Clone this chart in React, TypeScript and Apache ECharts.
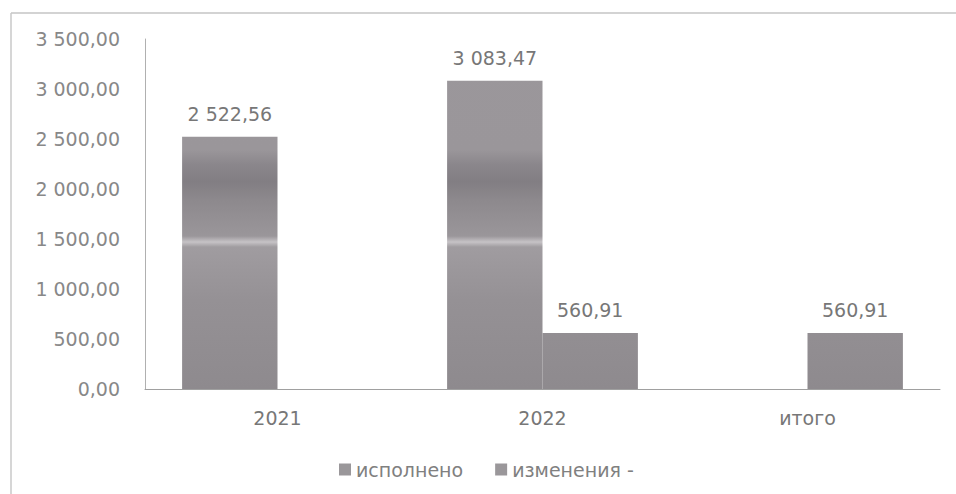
import React, { useEffect, useRef } from "react";
import * as echarts from "echarts";

const categories = ["2021", "2022", "итого"];
const executed = [2522.56, 3083.47, null];
const changes = [null, 560.91, 560.91];
const seriesNames = ["исполнено", "изменения -"];
const yMin = 0;
const yMax = 3500;
const yStep = 500;

function fmt(v: number): string {
  const [i, d] = v.toFixed(2).split(".");
  return i.replace(/\B(?=(\d{3})+(?!\d))/g, " ") + "," + d;
}

const FONT = "DejaVu Sans";

export default function App() {
  const ref = useRef<HTMLDivElement>(null);
  useEffect(() => {
    if (!ref.current) return;
    const chart = echarts.init(ref.current, undefined, { renderer: "svg" });
    const top = 39;
    const bottom = 389;
    const span = bottom - top;
    const off = (y: number) => (y - top) / span;
    const barFill = {
      type: "linear",
      x: 0,
      y: top,
      x2: 0,
      y2: bottom,
      global: true,
      colorStops: [
        { offset: 0, color: "#9b979b" },
        { offset: off(150), color: "#9a969a" },
        { offset: off(165), color: "#8a868b" },
        { offset: off(182), color: "#827e83" },
        { offset: off(200), color: "#8d898d" },
        { offset: off(236), color: "#9a969a" },
        { offset: off(242), color: "#c6c3c6" },
        { offset: off(247), color: "#a09ca0" },
        { offset: off(300), color: "#959195" },
        { offset: 1, color: "#8e8a8e" },
      ],
    };
    const labelStyle = {
      show: true,
      position: "top",
      distance: 13,
      fontFamily: FONT,
      fontSize: 19,
      color: "#777",
      formatter: (p: any) => (p.value == null ? "" : fmt(p.value)),
    };
    chart.setOption({
      animation: false,
      backgroundColor: "#ffffff",
      textStyle: { fontFamily: FONT },
      grid: { left: 145, right: 16, top: top, bottom: 494 - bottom, containLabel: false },
      legend: {
        left: 334,
        top: 455,
        itemWidth: 12,
        itemHeight: 12,
        itemGap: 32,
        icon: "rect",
        itemStyle: { color: "#9a979a" },
        textStyle: { fontFamily: FONT, fontSize: 19, color: "#808080" },
        data: seriesNames,
      },
      xAxis: {
        type: "category",
        data: categories,
        axisLine: { show: true, lineStyle: { color: "#a0a0a0", width: 1 } },
        axisTick: { show: false },
        axisLabel: { margin: 19, fontFamily: FONT, fontSize: 19, color: "#777" },
      },
      yAxis: {
        type: "value",
        min: yMin,
        max: yMax,
        interval: yStep,
        axisLine: { show: true, lineStyle: { color: "#b0b0b0", width: 1 } },
        axisTick: { show: false },
        splitLine: { show: false },
        axisLabel: {
          margin: 25,
          fontFamily: FONT,
          fontSize: 19,
          color: "#888",
          formatter: (v: number) => fmt(v),
        },
      },
      series: [
        {
          name: seriesNames[0],
          type: "bar",
          data: executed,
          barGap: "0%",
          barCategoryGap: "28%",
          itemStyle: { color: barFill },
          label: labelStyle,
        },
        {
          name: seriesNames[1],
          type: "bar",
          data: changes,
          itemStyle: { color: barFill },
          label: labelStyle,
        },
      ],
      graphic: [
        {
          type: "line",
          shape: { x1: 11, y1: 13, x2: 956, y2: 13 },
          style: { stroke: "#c4c4c4", lineWidth: 1.5 },
          silent: true,
        },
        {
          type: "line",
          shape: { x1: 11, y1: 13, x2: 11, y2: 494 },
          style: { stroke: "#c8c8c8", lineWidth: 1.5 },
          silent: true,
        },
      ],
    });
    return () => chart.dispose();
  }, []);
  return (
    <div
      ref={ref}
      style={{ position: "absolute", left: 0, top: 0, width: 956, height: 494 }}
    />
  );
}
